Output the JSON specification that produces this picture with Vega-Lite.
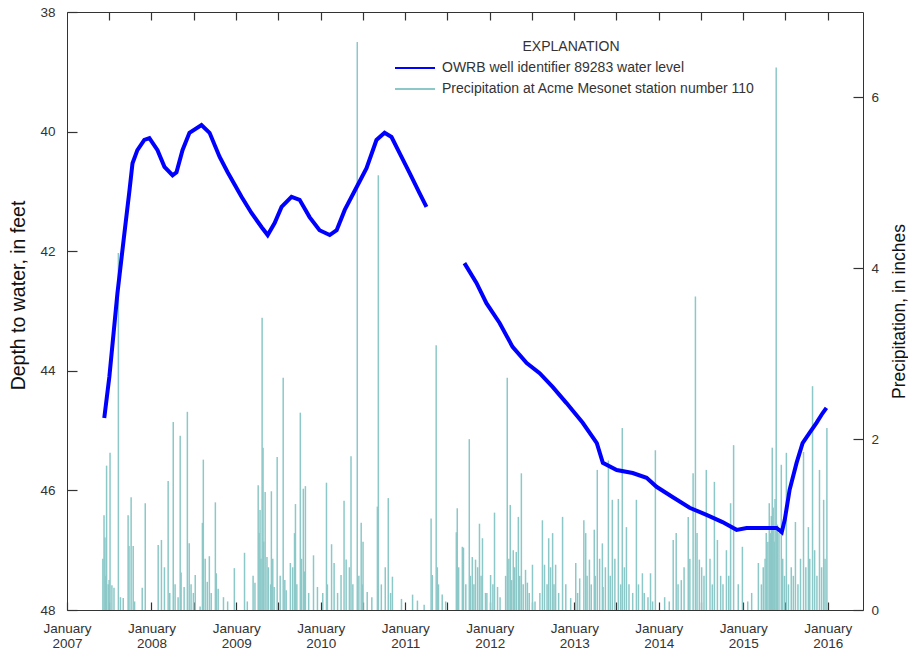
{
  "$schema": "https://vega.github.io/schema/vega-lite/v6.json",
  "width": 796,
  "height": 598,
  "autosize": {"type": "none"},
  "padding": {"left": 67, "top": 12, "right": 45, "bottom": 43},
  "background": "white",
  "config": {
    "font": "Liberation Sans",
    "view": {"stroke": "#333", "strokeWidth": 1},
    "axis": {
      "labelFont": "Liberation Sans",
      "titleFont": "Liberation Sans",
      "labelColor": "#333",
      "titleColor": "#111",
      "tickColor": "#333",
      "tickWidth": 1.2,
      "grid": false,
      "domain": false,
      "labelFontSize": 13.5,
      "titleFontSize": 18,
      "titleFontWeight": "normal"
    },
    "legend": {
      "orient": "none",
      "legendX": 321,
      "legendY": 28,
      "padding": 0,
      "titleAnchor": "middle",
      "symbolType": "M0,0H8",
      "symbolSize": 100,
      "symbolStrokeWidth": 2,
      "labelFont": "Liberation Sans",
      "titleFont": "Liberation Sans",
      "labelFontSize": 14,
      "titleFontSize": 14,
      "titleFontWeight": "normal",
      "labelColor": "#333",
      "titleColor": "#333",
      "labelLimit": 500,
      "rowPadding": 7,
      "labelOffset": 40,
      "titlePadding": 7
    }
  },
  "datasets": {
    "wl": [
      {"date": "2007-06-11", "depth": 44.79, "seg": 1},
      {"date": "2007-07-03", "depth": 44.10, "seg": 1},
      {"date": "2007-08-07", "depth": 42.70, "seg": 1},
      {"date": "2007-09-06", "depth": 41.70, "seg": 1},
      {"date": "2007-09-28", "depth": 40.98, "seg": 1},
      {"date": "2007-10-11", "depth": 40.53, "seg": 1},
      {"date": "2007-11-01", "depth": 40.31, "seg": 1},
      {"date": "2007-12-01", "depth": 40.14, "seg": 1},
      {"date": "2007-12-23", "depth": 40.11, "seg": 1},
      {"date": "2008-01-27", "depth": 40.31, "seg": 1},
      {"date": "2008-02-26", "depth": 40.59, "seg": 1},
      {"date": "2008-04-01", "depth": 40.73, "seg": 1},
      {"date": "2008-04-18", "depth": 40.68, "seg": 1},
      {"date": "2008-05-14", "depth": 40.31, "seg": 1},
      {"date": "2008-06-13", "depth": 40.02, "seg": 1},
      {"date": "2008-08-04", "depth": 39.89, "seg": 1},
      {"date": "2008-09-08", "depth": 40.02, "seg": 1},
      {"date": "2008-10-21", "depth": 40.42, "seg": 1},
      {"date": "2008-11-25", "depth": 40.68, "seg": 1},
      {"date": "2009-01-24", "depth": 41.09, "seg": 1},
      {"date": "2009-03-08", "depth": 41.36, "seg": 1},
      {"date": "2009-04-21", "depth": 41.60, "seg": 1},
      {"date": "2009-05-17", "depth": 41.73, "seg": 1},
      {"date": "2009-06-16", "depth": 41.53, "seg": 1},
      {"date": "2009-07-16", "depth": 41.26, "seg": 1},
      {"date": "2009-08-28", "depth": 41.09, "seg": 1},
      {"date": "2009-10-02", "depth": 41.14, "seg": 1},
      {"date": "2009-11-14", "depth": 41.43, "seg": 1},
      {"date": "2009-12-27", "depth": 41.65, "seg": 1},
      {"date": "2010-02-09", "depth": 41.73, "seg": 1},
      {"date": "2010-03-11", "depth": 41.65, "seg": 1},
      {"date": "2010-04-15", "depth": 41.31, "seg": 1},
      {"date": "2010-06-05", "depth": 40.93, "seg": 1},
      {"date": "2010-07-18", "depth": 40.61, "seg": 1},
      {"date": "2010-08-30", "depth": 40.14, "seg": 1},
      {"date": "2010-10-04", "depth": 40.02, "seg": 1},
      {"date": "2010-11-03", "depth": 40.09, "seg": 1},
      {"date": "2010-12-08", "depth": 40.36, "seg": 1},
      {"date": "2011-01-20", "depth": 40.69, "seg": 1},
      {"date": "2011-03-04", "depth": 41.03, "seg": 1},
      {"date": "2011-04-03", "depth": 41.26, "seg": 1},
      {"date": "2011-09-14", "depth": 42.20, "seg": 2},
      {"date": "2011-11-05", "depth": 42.53, "seg": 2},
      {"date": "2011-12-18", "depth": 42.87, "seg": 2},
      {"date": "2012-02-13", "depth": 43.20, "seg": 2},
      {"date": "2012-04-09", "depth": 43.60, "seg": 2},
      {"date": "2012-06-09", "depth": 43.87, "seg": 2},
      {"date": "2012-08-04", "depth": 44.04, "seg": 2},
      {"date": "2012-09-29", "depth": 44.27, "seg": 2},
      {"date": "2012-11-28", "depth": 44.54, "seg": 2},
      {"date": "2013-02-06", "depth": 44.87, "seg": 2},
      {"date": "2013-04-08", "depth": 45.21, "seg": 2},
      {"date": "2013-05-04", "depth": 45.54, "seg": 2},
      {"date": "2013-07-03", "depth": 45.66, "seg": 2},
      {"date": "2013-09-10", "depth": 45.71, "seg": 2},
      {"date": "2013-11-09", "depth": 45.79, "seg": 2},
      {"date": "2013-12-22", "depth": 45.94, "seg": 2},
      {"date": "2014-03-01", "depth": 46.11, "seg": 2},
      {"date": "2014-05-14", "depth": 46.29, "seg": 2},
      {"date": "2014-07-26", "depth": 46.41, "seg": 2},
      {"date": "2014-10-03", "depth": 46.53, "seg": 2},
      {"date": "2014-12-03", "depth": 46.66, "seg": 2},
      {"date": "2015-01-15", "depth": 46.63, "seg": 2},
      {"date": "2015-03-13", "depth": 46.63, "seg": 2},
      {"date": "2015-05-25", "depth": 46.63, "seg": 2},
      {"date": "2015-06-16", "depth": 46.70, "seg": 2},
      {"date": "2015-06-29", "depth": 46.49, "seg": 2},
      {"date": "2015-07-20", "depth": 45.99, "seg": 2},
      {"date": "2015-08-19", "depth": 45.54, "seg": 2},
      {"date": "2015-09-14", "depth": 45.21, "seg": 2},
      {"date": "2015-10-14", "depth": 45.04, "seg": 2},
      {"date": "2015-11-13", "depth": 44.87, "seg": 2},
      {"date": "2015-12-09", "depth": 44.71, "seg": 2},
      {"date": "2015-12-26", "depth": 44.62, "seg": 2}
    ],
    "pr": [
      {"date": "2007-06-05", "precip": 0.6},
      {"date": "2007-06-10", "precip": 1.11},
      {"date": "2007-06-14", "precip": 0.85},
      {"date": "2007-06-17", "precip": 0.4},
      {"date": "2007-06-21", "precip": 1.69},
      {"date": "2007-06-28", "precip": 0.3},
      {"date": "2007-07-02", "precip": 0.35},
      {"date": "2007-07-06", "precip": 1.84},
      {"date": "2007-07-14", "precip": 0.29},
      {"date": "2007-07-23", "precip": 0.26},
      {"date": "2007-08-11", "precip": 4.18},
      {"date": "2007-08-20", "precip": 0.15},
      {"date": "2007-09-01", "precip": 0.14},
      {"date": "2007-09-22", "precip": 1.11},
      {"date": "2007-09-26", "precip": 0.75},
      {"date": "2007-10-05", "precip": 1.32},
      {"date": "2007-10-14", "precip": 0.75},
      {"date": "2007-10-20", "precip": 0.1},
      {"date": "2007-11-22", "precip": 0.26},
      {"date": "2007-12-05", "precip": 1.25},
      {"date": "2008-01-30", "precip": 0.76},
      {"date": "2008-02-13", "precip": 0.82},
      {"date": "2008-02-26", "precip": 0.5},
      {"date": "2008-03-13", "precip": 1.51},
      {"date": "2008-03-20", "precip": 0.2},
      {"date": "2008-04-04", "precip": 2.2},
      {"date": "2008-04-12", "precip": 0.3},
      {"date": "2008-04-25", "precip": 0.15},
      {"date": "2008-05-04", "precip": 2.04},
      {"date": "2008-05-08", "precip": 0.44},
      {"date": "2008-05-21", "precip": 0.27},
      {"date": "2008-06-04", "precip": 2.32},
      {"date": "2008-06-12", "precip": 0.78},
      {"date": "2008-06-20", "precip": 0.3},
      {"date": "2008-06-30", "precip": 0.2},
      {"date": "2008-07-08", "precip": 0.41},
      {"date": "2008-07-29", "precip": 0.04},
      {"date": "2008-08-08", "precip": 1.02},
      {"date": "2008-08-12", "precip": 1.76},
      {"date": "2008-08-20", "precip": 0.6},
      {"date": "2008-08-29", "precip": 0.33},
      {"date": "2008-09-07", "precip": 0.63},
      {"date": "2008-09-15", "precip": 0.2},
      {"date": "2008-10-03", "precip": 1.26},
      {"date": "2008-10-07", "precip": 0.43},
      {"date": "2008-10-15", "precip": 0.25},
      {"date": "2008-11-07", "precip": 0.15},
      {"date": "2008-11-25", "precip": 0.1},
      {"date": "2008-12-24", "precip": 0.49},
      {"date": "2009-02-06", "precip": 0.67},
      {"date": "2009-02-18", "precip": 0.1},
      {"date": "2009-03-15", "precip": 0.4},
      {"date": "2009-03-23", "precip": 0.32},
      {"date": "2009-04-06", "precip": 1.46},
      {"date": "2009-04-10", "precip": 0.9},
      {"date": "2009-04-14", "precip": 1.17},
      {"date": "2009-04-18", "precip": 0.6},
      {"date": "2009-04-23", "precip": 3.42},
      {"date": "2009-04-27", "precip": 1.9},
      {"date": "2009-04-30", "precip": 0.8},
      {"date": "2009-05-06", "precip": 1.38},
      {"date": "2009-05-14", "precip": 0.62},
      {"date": "2009-05-20", "precip": 0.5},
      {"date": "2009-05-30", "precip": 0.3},
      {"date": "2009-06-02", "precip": 1.39},
      {"date": "2009-06-08", "precip": 0.6},
      {"date": "2009-06-14", "precip": 0.27},
      {"date": "2009-06-27", "precip": 1.79},
      {"date": "2009-07-10", "precip": 0.4},
      {"date": "2009-07-23", "precip": 2.72},
      {"date": "2009-07-30", "precip": 0.35},
      {"date": "2009-08-05", "precip": 0.23},
      {"date": "2009-08-23", "precip": 0.55},
      {"date": "2009-09-02", "precip": 0.5},
      {"date": "2009-09-10", "precip": 0.9},
      {"date": "2009-09-14", "precip": 1.24},
      {"date": "2009-09-20", "precip": 0.3},
      {"date": "2009-10-05", "precip": 2.31},
      {"date": "2009-10-10", "precip": 0.6},
      {"date": "2009-10-18", "precip": 1.42},
      {"date": "2009-10-22", "precip": 0.45},
      {"date": "2009-10-27", "precip": 1.45},
      {"date": "2009-11-10", "precip": 0.2},
      {"date": "2009-12-01", "precip": 0.64},
      {"date": "2009-12-18", "precip": 0.27},
      {"date": "2010-01-10", "precip": 0.2},
      {"date": "2010-01-26", "precip": 1.49},
      {"date": "2010-01-30", "precip": 0.3},
      {"date": "2010-02-17", "precip": 0.77},
      {"date": "2010-02-28", "precip": 0.55},
      {"date": "2010-03-15", "precip": 0.2},
      {"date": "2010-03-30", "precip": 0.41},
      {"date": "2010-04-12", "precip": 1.28},
      {"date": "2010-04-21", "precip": 0.59},
      {"date": "2010-05-05", "precip": 0.5},
      {"date": "2010-05-12", "precip": 1.8},
      {"date": "2010-05-20", "precip": 0.3},
      {"date": "2010-06-08", "precip": 6.65},
      {"date": "2010-06-15", "precip": 0.4},
      {"date": "2010-06-25", "precip": 1.02},
      {"date": "2010-06-30", "precip": 0.3},
      {"date": "2010-07-03", "precip": 0.8},
      {"date": "2010-07-21", "precip": 0.21},
      {"date": "2010-08-10", "precip": 0.15},
      {"date": "2010-09-03", "precip": 1.21},
      {"date": "2010-09-07", "precip": 5.09},
      {"date": "2010-09-20", "precip": 0.3},
      {"date": "2010-10-07", "precip": 0.5},
      {"date": "2010-10-20", "precip": 1.31},
      {"date": "2010-10-30", "precip": 0.2},
      {"date": "2010-11-07", "precip": 0.39},
      {"date": "2010-12-16", "precip": 0.13},
      {"date": "2011-02-02", "precip": 0.18},
      {"date": "2011-02-23", "precip": 0.11},
      {"date": "2011-03-24", "precip": 0.06},
      {"date": "2011-04-23", "precip": 1.07},
      {"date": "2011-04-28", "precip": 0.41},
      {"date": "2011-05-15", "precip": 3.1},
      {"date": "2011-05-20", "precip": 0.5},
      {"date": "2011-05-25", "precip": 0.3},
      {"date": "2011-06-10", "precip": 0.18},
      {"date": "2011-06-25", "precip": 0.1},
      {"date": "2011-08-10", "precip": 0.91},
      {"date": "2011-08-14", "precip": 1.19},
      {"date": "2011-08-20", "precip": 0.5},
      {"date": "2011-09-05", "precip": 0.74},
      {"date": "2011-09-10", "precip": 0.73},
      {"date": "2011-09-20", "precip": 0.3},
      {"date": "2011-10-05", "precip": 2.0},
      {"date": "2011-10-10", "precip": 0.4},
      {"date": "2011-10-18", "precip": 0.62},
      {"date": "2011-10-25", "precip": 0.3},
      {"date": "2011-11-01", "precip": 0.59},
      {"date": "2011-11-10", "precip": 0.5},
      {"date": "2011-11-18", "precip": 1.01},
      {"date": "2011-11-25", "precip": 0.4},
      {"date": "2011-12-01", "precip": 0.84},
      {"date": "2011-12-14", "precip": 0.2},
      {"date": "2011-12-20", "precip": 0.2},
      {"date": "2012-01-05", "precip": 0.41},
      {"date": "2012-01-15", "precip": 0.3},
      {"date": "2012-01-22", "precip": 1.14},
      {"date": "2012-02-04", "precip": 0.27},
      {"date": "2012-02-15", "precip": 0.15},
      {"date": "2012-03-10", "precip": 0.4},
      {"date": "2012-03-17", "precip": 2.72},
      {"date": "2012-03-24", "precip": 0.6},
      {"date": "2012-03-30", "precip": 1.23},
      {"date": "2012-04-05", "precip": 0.35},
      {"date": "2012-04-12", "precip": 0.7},
      {"date": "2012-04-18", "precip": 0.5},
      {"date": "2012-04-25", "precip": 0.68},
      {"date": "2012-05-04", "precip": 1.09},
      {"date": "2012-05-10", "precip": 0.4},
      {"date": "2012-05-17", "precip": 1.6},
      {"date": "2012-05-25", "precip": 0.3},
      {"date": "2012-06-04", "precip": 0.47},
      {"date": "2012-06-12", "precip": 0.32},
      {"date": "2012-06-20", "precip": 0.2},
      {"date": "2012-07-04", "precip": 0.53},
      {"date": "2012-07-15", "precip": 0.1},
      {"date": "2012-08-05", "precip": 0.2},
      {"date": "2012-08-16", "precip": 1.05},
      {"date": "2012-08-25", "precip": 0.53},
      {"date": "2012-09-05", "precip": 0.3},
      {"date": "2012-09-12", "precip": 0.84},
      {"date": "2012-09-20", "precip": 0.5},
      {"date": "2012-09-29", "precip": 0.9},
      {"date": "2012-10-05", "precip": 0.3},
      {"date": "2012-10-12", "precip": 0.53},
      {"date": "2012-10-25", "precip": 0.2},
      {"date": "2012-11-11", "precip": 1.09},
      {"date": "2012-11-25", "precip": 0.3},
      {"date": "2012-12-16", "precip": 0.14},
      {"date": "2013-01-07", "precip": 0.55},
      {"date": "2013-01-15", "precip": 0.2},
      {"date": "2013-01-24", "precip": 0.37},
      {"date": "2013-02-11", "precip": 1.05},
      {"date": "2013-02-19", "precip": 0.9},
      {"date": "2013-02-25", "precip": 0.4},
      {"date": "2013-03-07", "precip": 0.59},
      {"date": "2013-03-15", "precip": 0.3},
      {"date": "2013-03-28", "precip": 0.94},
      {"date": "2013-04-01", "precip": 0.4},
      {"date": "2013-04-10", "precip": 1.64},
      {"date": "2013-04-20", "precip": 0.6},
      {"date": "2013-05-02", "precip": 0.78},
      {"date": "2013-05-05", "precip": 0.27},
      {"date": "2013-05-15", "precip": 0.5},
      {"date": "2013-05-28", "precip": 1.75},
      {"date": "2013-06-05", "precip": 0.4},
      {"date": "2013-06-14", "precip": 1.29},
      {"date": "2013-06-25", "precip": 0.6},
      {"date": "2013-07-10", "precip": 1.3},
      {"date": "2013-07-20", "precip": 0.3},
      {"date": "2013-07-27", "precip": 2.13},
      {"date": "2013-08-05", "precip": 0.5},
      {"date": "2013-08-14", "precip": 0.97},
      {"date": "2013-08-25", "precip": 0.3},
      {"date": "2013-09-10", "precip": 0.2},
      {"date": "2013-09-26", "precip": 1.29},
      {"date": "2013-10-05", "precip": 0.3},
      {"date": "2013-10-22", "precip": 0.43},
      {"date": "2013-10-30", "precip": 0.2},
      {"date": "2013-11-15", "precip": 0.15},
      {"date": "2013-11-26", "precip": 0.43},
      {"date": "2013-12-05", "precip": 0.1},
      {"date": "2013-12-17", "precip": 1.87},
      {"date": "2014-01-26", "precip": 0.15},
      {"date": "2014-02-15", "precip": 0.1},
      {"date": "2014-03-04", "precip": 0.82},
      {"date": "2014-03-17", "precip": 0.9},
      {"date": "2014-03-25", "precip": 0.3},
      {"date": "2014-04-08", "precip": 0.35},
      {"date": "2014-04-20", "precip": 0.5},
      {"date": "2014-05-08", "precip": 1.09},
      {"date": "2014-05-15", "precip": 0.6},
      {"date": "2014-05-29", "precip": 1.6},
      {"date": "2014-06-08", "precip": 3.67},
      {"date": "2014-06-15", "precip": 0.9},
      {"date": "2014-06-25", "precip": 0.59},
      {"date": "2014-07-05", "precip": 0.5},
      {"date": "2014-07-15", "precip": 0.4},
      {"date": "2014-07-25", "precip": 1.64},
      {"date": "2014-08-10", "precip": 0.6},
      {"date": "2014-08-20", "precip": 0.3},
      {"date": "2014-08-29", "precip": 1.5},
      {"date": "2014-09-11", "precip": 0.82},
      {"date": "2014-09-25", "precip": 0.4},
      {"date": "2014-10-05", "precip": 0.3},
      {"date": "2014-10-20", "precip": 0.7},
      {"date": "2014-10-30", "precip": 0.4},
      {"date": "2014-11-07", "precip": 1.25},
      {"date": "2014-11-20", "precip": 1.93},
      {"date": "2014-12-10", "precip": 0.3},
      {"date": "2014-12-28", "precip": 0.74},
      {"date": "2015-01-20", "precip": 0.1},
      {"date": "2015-02-06", "precip": 0.2},
      {"date": "2015-03-07", "precip": 0.55},
      {"date": "2015-03-20", "precip": 0.3},
      {"date": "2015-03-28", "precip": 0.5},
      {"date": "2015-04-05", "precip": 0.6},
      {"date": "2015-04-10", "precip": 0.9},
      {"date": "2015-04-17", "precip": 0.8},
      {"date": "2015-04-23", "precip": 1.25},
      {"date": "2015-04-28", "precip": 0.9},
      {"date": "2015-05-02", "precip": 1.1},
      {"date": "2015-05-06", "precip": 1.9},
      {"date": "2015-05-10", "precip": 1.2},
      {"date": "2015-05-15", "precip": 0.8},
      {"date": "2015-05-18", "precip": 1.3},
      {"date": "2015-05-23", "precip": 6.35},
      {"date": "2015-05-28", "precip": 1.0},
      {"date": "2015-06-04", "precip": 0.9},
      {"date": "2015-06-14", "precip": 1.7},
      {"date": "2015-06-20", "precip": 0.6},
      {"date": "2015-06-28", "precip": 0.4},
      {"date": "2015-07-06", "precip": 1.84},
      {"date": "2015-07-15", "precip": 0.3},
      {"date": "2015-07-27", "precip": 0.5},
      {"date": "2015-08-05", "precip": 0.4},
      {"date": "2015-08-14", "precip": 1.03},
      {"date": "2015-08-25", "precip": 0.3},
      {"date": "2015-09-05", "precip": 0.6},
      {"date": "2015-09-18", "precip": 1.85},
      {"date": "2015-09-28", "precip": 0.5},
      {"date": "2015-10-09", "precip": 0.97},
      {"date": "2015-10-15", "precip": 0.6},
      {"date": "2015-10-27", "precip": 2.62},
      {"date": "2015-11-05", "precip": 0.7},
      {"date": "2015-11-15", "precip": 0.4},
      {"date": "2015-11-26", "precip": 1.64},
      {"date": "2015-12-05", "precip": 0.5},
      {"date": "2015-12-14", "precip": 1.29},
      {"date": "2015-12-20", "precip": 0.6},
      {"date": "2015-12-28", "precip": 2.13}
    ]
  },
  "layer": [
    {
      "data": {"name": "pr"},
      "mark": {"type": "rule", "strokeWidth": 1.5},
      "encoding": {
        "x": {
          "field": "date",
          "type": "temporal",
          "scale": {"type": "utc", "domain": [{"year": 2007, "month": 1, "date": 1, "utc": true}, {"year": 2016, "month": 6, "date": 1, "utc": true}]},
          "axis": {
            "orient": "top",
            "title": null,
            "labels": false,
            "tickSize": -8,
            "values": [
              {"year": 2007, "month": 7, "date": 1, "utc": true},
              {"year": 2008, "month": 1, "date": 1, "utc": true},
              {"year": 2008, "month": 7, "date": 1, "utc": true},
              {"year": 2009, "month": 1, "date": 1, "utc": true},
              {"year": 2009, "month": 7, "date": 1, "utc": true},
              {"year": 2010, "month": 1, "date": 1, "utc": true},
              {"year": 2010, "month": 7, "date": 1, "utc": true},
              {"year": 2011, "month": 1, "date": 1, "utc": true},
              {"year": 2011, "month": 7, "date": 1, "utc": true},
              {"year": 2012, "month": 1, "date": 1, "utc": true},
              {"year": 2012, "month": 7, "date": 1, "utc": true},
              {"year": 2013, "month": 1, "date": 1, "utc": true},
              {"year": 2013, "month": 7, "date": 1, "utc": true},
              {"year": 2014, "month": 1, "date": 1, "utc": true},
              {"year": 2014, "month": 7, "date": 1, "utc": true},
              {"year": 2015, "month": 1, "date": 1, "utc": true},
              {"year": 2015, "month": 7, "date": 1, "utc": true},
              {"year": 2016, "month": 1, "date": 1, "utc": true}
            ]
          }
        },
        "y": {
          "field": "precip",
          "type": "quantitative",
          "scale": {"domain": [0, 7], "nice": false},
          "axis": {
            "orient": "right",
            "values": [0, 2, 4, 6],
            "tickSize": -10,
            "labelPadding": 18,
            "title": "Precipitation, in inches",
            "titleAngle": 270,
            "titleFontSize": 17.5,
            "titlePadding": 30
          }
        },
        "y2": {"datum": 0},
        "color": {
          "datum": "Precipitation at Acme Mesonet station number 110",
          "type": "nominal",
          "scale": {
            "domain": ["OWRB well identifier 89283 water level", "Precipitation at Acme Mesonet station number 110"],
            "range": ["#0000ff", "#8cc8c8"]
          },
          "legend": {"title": "EXPLANATION"}
        }
      }
    },
    {
      "data": {"name": "wl"},
      "mark": {"type": "line", "strokeWidth": 4},
      "encoding": {
        "x": {
          "field": "date",
          "type": "temporal",
          "axis": {
            "orient": "bottom",
            "title": null,
            "tickSize": -8,
            "labelPadding": 19,
            "labelOverlap": false,
            "labelFlush": false,
            "labelLineHeight": 15,
            "labelExpr": "utcmonth(datum.value) == 0 ? ['January', '' + utcyear(datum.value)] : ''",
            "values": [
              {"year": 2007, "month": 1, "date": 1, "utc": true},
              {"year": 2007, "month": 7, "date": 1, "utc": true},
              {"year": 2008, "month": 1, "date": 1, "utc": true},
              {"year": 2008, "month": 7, "date": 1, "utc": true},
              {"year": 2009, "month": 1, "date": 1, "utc": true},
              {"year": 2009, "month": 7, "date": 1, "utc": true},
              {"year": 2010, "month": 1, "date": 1, "utc": true},
              {"year": 2010, "month": 7, "date": 1, "utc": true},
              {"year": 2011, "month": 1, "date": 1, "utc": true},
              {"year": 2011, "month": 7, "date": 1, "utc": true},
              {"year": 2012, "month": 1, "date": 1, "utc": true},
              {"year": 2012, "month": 7, "date": 1, "utc": true},
              {"year": 2013, "month": 1, "date": 1, "utc": true},
              {"year": 2013, "month": 7, "date": 1, "utc": true},
              {"year": 2014, "month": 1, "date": 1, "utc": true},
              {"year": 2014, "month": 7, "date": 1, "utc": true},
              {"year": 2015, "month": 1, "date": 1, "utc": true},
              {"year": 2015, "month": 7, "date": 1, "utc": true},
              {"year": 2016, "month": 1, "date": 1, "utc": true}
            ]
          }
        },
        "y": {
          "field": "depth",
          "type": "quantitative",
          "scale": {"domain": [38, 48], "reverse": true, "nice": false, "zero": false},
          "axis": {
            "orient": "left",
            "values": [38, 40, 42, 44, 46, 48],
            "tickSize": -10,
            "labelPadding": 22,
            "title": "Depth to water, in feet",
            "titleFontSize": 19.5,
            "titlePadding": 11,
            "titleY": 283
          }
        },
        "detail": {"field": "seg", "type": "nominal"},
        "color": {"datum": "OWRB well identifier 89283 water level", "type": "nominal"}
      }
    }
  ],
  "resolve": {
    "scale": {"y": "independent"},
    "axis": {"y": "independent", "x": "independent"}
  }
}
